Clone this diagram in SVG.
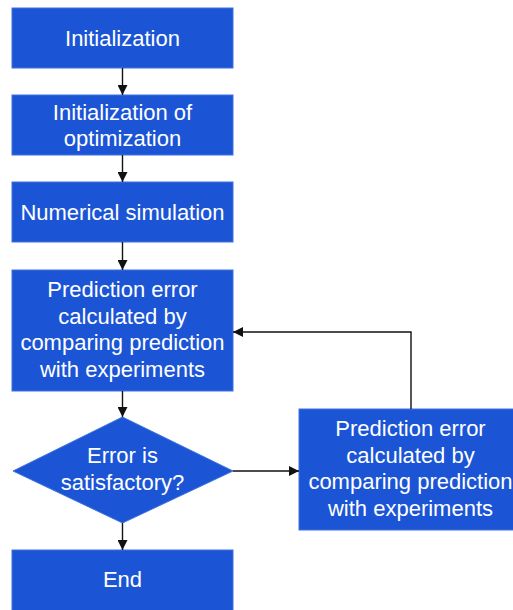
<svg xmlns="http://www.w3.org/2000/svg" width="513" height="610" viewBox="0 0 513 610">
  <style>
    .node { fill: #1b55d6; stroke: #3f73e0; stroke-width: 1; }
    .label { fill: #ffffff; font-family: "Liberation Sans", Arial, sans-serif; font-size: 22px; text-anchor: middle; }
    .edge { fill: none; stroke: #111111; stroke-width: 1.4; marker-end: url(#arrow); }
  </style>
  <defs>
    <marker id="arrow" viewBox="0 0 10 10" refX="10" refY="5" markerWidth="10" markerHeight="10" markerUnits="userSpaceOnUse" orient="auto">
      <path d="M0,0 L10,5 L0,10 Z" fill="#111111"/>
    </marker>
  </defs>
  <rect width="513" height="610" fill="#ffffff"/>

  <g id="init">
    <rect class="node" x="12" y="8" width="221" height="60"/>
    <text class="label" x="122.5" y="45.5">Initialization</text>
  </g>
  <g id="init-opt">
    <rect class="node" x="12" y="95" width="221" height="60"/>
    <text class="label" x="122.5" y="119.5">Initialization of</text>
    <text class="label" x="122.5" y="145.5">optimization</text>
  </g>
  <g id="simulation">
    <rect class="node" x="12" y="182" width="221" height="60"/>
    <text class="label" x="122.5" y="220">Numerical simulation</text>
  </g>
  <g id="error-calc">
    <rect class="node" x="12" y="270" width="221" height="121"/>
    <text class="label" x="122.5" y="297">Prediction error</text>
    <text class="label" x="122.5" y="323.5">calculated by</text>
    <text class="label" x="122.5" y="350">comparing prediction</text>
    <text class="label" x="122.5" y="376.5">with experiments</text>
  </g>
  <g id="decision">
    <polygon class="node" points="122.5,417 233,471 122.5,523 13,471"/>
    <text class="label" x="122.5" y="463">Error is</text>
    <text class="label" x="122.5" y="490">satisfactory?</text>
  </g>
  <g id="end">
    <rect class="node" x="12" y="550" width="221" height="64"/>
    <text class="label" x="122.5" y="586.5">End</text>
  </g>
  <g id="error-calc-2">
    <rect class="node" x="299" y="409" width="224" height="121"/>
    <text class="label" x="410.5" y="436">Prediction error</text>
    <text class="label" x="410.5" y="462.5">calculated by</text>
    <text class="label" x="410.5" y="489">comparing prediction</text>
    <text class="label" x="410.5" y="515.5">with experiments</text>
  </g>

  <g id="connectors">
    <line class="edge" x1="122.5" y1="68" x2="122.5" y2="95"/>
    <line class="edge" x1="122.5" y1="155" x2="122.5" y2="182"/>
    <line class="edge" x1="122.5" y1="242" x2="122.5" y2="270"/>
    <line class="edge" x1="122.5" y1="391" x2="122.5" y2="417"/>
    <line class="edge" x1="122.5" y1="523" x2="122.5" y2="550"/>
    <line class="edge" x1="233" y1="471" x2="299" y2="471"/>
    <polyline class="edge" points="411,409 411,332 233,332"/>
  </g>
</svg>
